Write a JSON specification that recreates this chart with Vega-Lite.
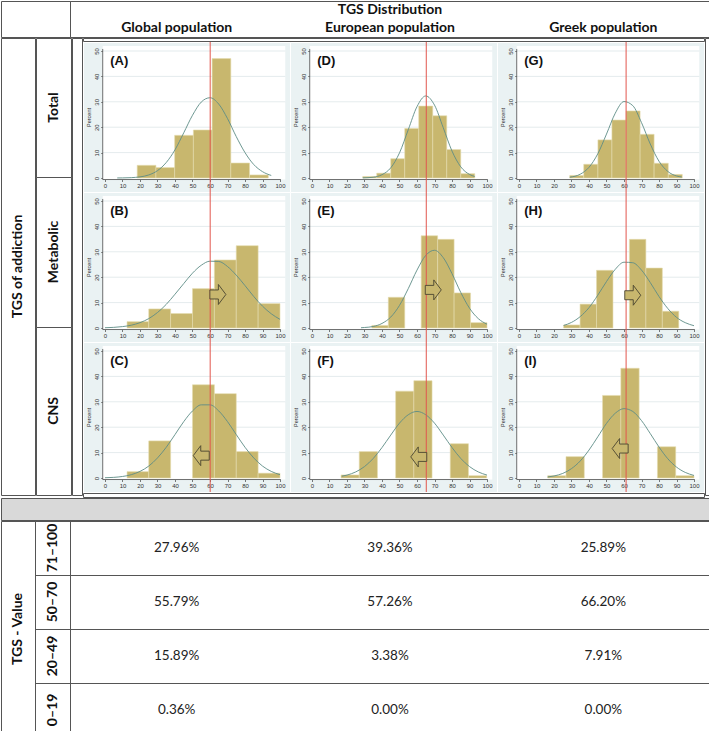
{
"$schema":"https://vega.github.io/schema/vega-lite/v6.json",
"padding":0,
"background":"white",
"spacing":-2,
"config":{"view":{"stroke":null},"text":{"font":"Lato","fontSize":14,"color":"#111"},"concat":{"spacing":0},
 "axisXQuantitative":{"tickCount":11,"labelOverlap":false,"labelExpr":"datum.value < 0 ? '' : datum.label"},
 "axisYQuantitative":{"tickCount":6,"labelOverlap":false}},
"datasets":{
"h":[
{"k":"g","y":10},{"k":"g","y":20},{"k":"g","y":30},{"k":"g","y":40},{"k":"g","y":50},
{"k":"l","p":"Gl","s":"T","t":"(A)"},{"k":"l","p":"Gl","s":"M","t":"(B)"},{"k":"l","p":"Gl","s":"C","t":"(C)"},
{"k":"l","p":"Eu","s":"T","t":"(D)"},{"k":"l","p":"Eu","s":"M","t":"(E)"},{"k":"l","p":"Eu","s":"C","t":"(F)"},
{"k":"l","p":"Gr","s":"T","t":"(G)"},{"k":"l","p":"Gr","s":"M","t":"(H)"},{"k":"l","p":"Gr","s":"C","t":"(I)"},
{"k":"m","p":"Gl","s":"T","x":60.1},{"k":"m","p":"Gl","s":"M","x":60.1},{"k":"m","p":"Gl","s":"C","x":60.1},
{"k":"m","p":"Eu","s":"T","x":65.3},{"k":"m","p":"Eu","s":"M","x":65.3},{"k":"m","p":"Eu","s":"C","x":65.3},
{"k":"m","p":"Gr","s":"T","x":61.2},{"k":"m","p":"Gr","s":"M","x":61.2},{"k":"m","p":"Gr","s":"C","x":61.2},
{"k":"a","p":"Gl","s":"M","x":64.5,"y":13.2,"d":"right"},
{"k":"a","p":"Gl","s":"C","x":55.0,"y":8.8,"d":"left"},
{"k":"a","p":"Eu","s":"M","x":69.3,"y":15.0,"d":"right"},
{"k":"a","p":"Eu","s":"C","x":61.0,"y":8.3,"d":"left"},
{"k":"a","p":"Gr","s":"M","x":65.0,"y":12.9,"d":"right"},
{"k":"a","p":"Gr","s":"C","x":57.8,"y":11.6,"d":"left"},
{"k":"b","p":"Gl","s":"T","x":18.4,"x1":29.1,"y":5.0},
{"k":"b","p":"Gl","s":"T","x":29.1,"x1":39.8,"y":4.1},
{"k":"b","p":"Gl","s":"T","x":39.8,"x1":50.5,"y":16.8},
{"k":"b","p":"Gl","s":"T","x":50.5,"x1":61.2,"y":18.9},
{"k":"b","p":"Gl","s":"T","x":61.2,"x1":71.9,"y":47.0},
{"k":"b","p":"Gl","s":"T","x":71.9,"x1":82.6,"y":5.9},
{"k":"b","p":"Gl","s":"T","x":82.6,"x1":93.3,"y":1.2},
{"k":"b","p":"Gl","s":"M","x":12.6,"x1":25.0,"y":2.5},
{"k":"b","p":"Gl","s":"M","x":25.0,"x1":37.5,"y":7.5},
{"k":"b","p":"Gl","s":"M","x":37.5,"x1":50.0,"y":5.7},
{"k":"b","p":"Gl","s":"M","x":50.0,"x1":62.5,"y":15.5},
{"k":"b","p":"Gl","s":"M","x":62.5,"x1":75.0,"y":26.8},
{"k":"b","p":"Gl","s":"M","x":75.0,"x1":87.5,"y":32.4},
{"k":"b","p":"Gl","s":"M","x":87.5,"x1":100.0,"y":9.6},
{"k":"b","p":"Gl","s":"C","x":12.6,"x1":25.0,"y":2.5},
{"k":"b","p":"Gl","s":"C","x":25.0,"x1":37.5,"y":14.6},
{"k":"b","p":"Gl","s":"C","x":50.0,"x1":62.5,"y":36.7},
{"k":"b","p":"Gl","s":"C","x":62.5,"x1":75.0,"y":33.2},
{"k":"b","p":"Gl","s":"C","x":75.0,"x1":87.5,"y":10.4},
{"k":"b","p":"Gl","s":"C","x":87.5,"x1":100.0,"y":1.9},
{"k":"b","p":"Eu","s":"T","x":29,"x1":37,"y":0.6},
{"k":"b","p":"Eu","s":"T","x":37,"x1":45,"y":1.9},
{"k":"b","p":"Eu","s":"T","x":45,"x1":53,"y":7.6},
{"k":"b","p":"Eu","s":"T","x":53,"x1":61,"y":19.5},
{"k":"b","p":"Eu","s":"T","x":61,"x1":69,"y":28.3},
{"k":"b","p":"Eu","s":"T","x":69,"x1":77,"y":24.5},
{"k":"b","p":"Eu","s":"T","x":77,"x1":85,"y":11.2},
{"k":"b","p":"Eu","s":"T","x":85,"x1":93,"y":1.7},
{"k":"b","p":"Eu","s":"M","x":34.2,"x1":43.6,"y":1.0},
{"k":"b","p":"Eu","s":"M","x":43.6,"x1":53.0,"y":12.1},
{"k":"b","p":"Eu","s":"M","x":62.4,"x1":71.8,"y":36.3},
{"k":"b","p":"Eu","s":"M","x":71.8,"x1":81.2,"y":34.9},
{"k":"b","p":"Eu","s":"M","x":81.2,"x1":90.6,"y":13.8},
{"k":"b","p":"Eu","s":"M","x":90.6,"x1":100.0,"y":2.1},
{"k":"b","p":"Eu","s":"C","x":16.6,"x1":27.0,"y":1.2},
{"k":"b","p":"Eu","s":"C","x":27.0,"x1":37.4,"y":10.4},
{"k":"b","p":"Eu","s":"C","x":47.8,"x1":58.2,"y":34.2},
{"k":"b","p":"Eu","s":"C","x":58.2,"x1":68.6,"y":38.3},
{"k":"b","p":"Eu","s":"C","x":79.0,"x1":89.4,"y":13.5},
{"k":"b","p":"Eu","s":"C","x":89.4,"x1":99.8,"y":0.9},
{"k":"b","p":"Gr","s":"T","x":29.0,"x1":37.0,"y":1.0},
{"k":"b","p":"Gr","s":"T","x":37.0,"x1":45.1,"y":5.4},
{"k":"b","p":"Gr","s":"T","x":45.1,"x1":53.1,"y":15.0},
{"k":"b","p":"Gr","s":"T","x":53.1,"x1":61.2,"y":22.8},
{"k":"b","p":"Gr","s":"T","x":61.2,"x1":69.2,"y":26.4},
{"k":"b","p":"Gr","s":"T","x":69.2,"x1":77.2,"y":17.2},
{"k":"b","p":"Gr","s":"T","x":77.2,"x1":85.3,"y":5.8},
{"k":"b","p":"Gr","s":"T","x":85.3,"x1":93.3,"y":1.4},
{"k":"b","p":"Gr","s":"M","x":25.5,"x1":34.9,"y":1.2},
{"k":"b","p":"Gr","s":"M","x":34.9,"x1":44.3,"y":9.4},
{"k":"b","p":"Gr","s":"M","x":44.3,"x1":53.7,"y":22.7},
{"k":"b","p":"Gr","s":"M","x":63.1,"x1":72.5,"y":34.9},
{"k":"b","p":"Gr","s":"M","x":72.5,"x1":81.9,"y":23.6},
{"k":"b","p":"Gr","s":"M","x":81.9,"x1":91.3,"y":6.6},
{"k":"b","p":"Gr","s":"C","x":16.4,"x1":26.85,"y":0.9},
{"k":"b","p":"Gr","s":"C","x":26.85,"x1":37.3,"y":8.4},
{"k":"b","p":"Gr","s":"C","x":47.75,"x1":58.2,"y":32.5},
{"k":"b","p":"Gr","s":"C","x":58.2,"x1":68.65,"y":43.2},
{"k":"b","p":"Gr","s":"C","x":79.1,"x1":89.55,"y":12.3},
{"k":"b","p":"Gr","s":"C","x":89.55,"x1":100.0,"y":0.9},
{"k":"c","p":"Gl","s":"T","x":7,"y":0.02},{"k":"c","p":"Gl","s":"T","x":10,"y":0.04},{"k":"c","p":"Gl","s":"T","x":15,"y":0.14},{"k":"c","p":"Gl","s":"T","x":20,"y":0.44},{"k":"c","p":"Gl","s":"T","x":25,"y":1.2},{"k":"c","p":"Gl","s":"T","x":30,"y":2.9},{"k":"c","p":"Gl","s":"T","x":35,"y":6.1},{"k":"c","p":"Gl","s":"T","x":40,"y":11.1},{"k":"c","p":"Gl","s":"T","x":45,"y":17.8},{"k":"c","p":"Gl","s":"T","x":50,"y":24.7},{"k":"c","p":"Gl","s":"T","x":55,"y":29.9},{"k":"c","p":"Gl","s":"T","x":60,"y":31.6},{"k":"c","p":"Gl","s":"T","x":65,"y":29.1},{"k":"c","p":"Gl","s":"T","x":70,"y":23.4},{"k":"c","p":"Gl","s":"T","x":75,"y":16.3},{"k":"c","p":"Gl","s":"T","x":80,"y":10.0},{"k":"c","p":"Gl","s":"T","x":85,"y":5.3},{"k":"c","p":"Gl","s":"T","x":90,"y":2.5},{"k":"c","p":"Gl","s":"T","x":95,"y":1.0},
{"k":"c","p":"Gl","s":"M","x":0,"y":0.11},{"k":"c","p":"Gl","s":"M","x":5,"y":0.25},{"k":"c","p":"Gl","s":"M","x":10,"y":0.55},{"k":"c","p":"Gl","s":"M","x":15,"y":1.1},{"k":"c","p":"Gl","s":"M","x":20,"y":2.1},{"k":"c","p":"Gl","s":"M","x":25,"y":3.7},{"k":"c","p":"Gl","s":"M","x":30,"y":6.1},{"k":"c","p":"Gl","s":"M","x":35,"y":9.3},{"k":"c","p":"Gl","s":"M","x":40,"y":13.3},{"k":"c","p":"Gl","s":"M","x":45,"y":17.5},{"k":"c","p":"Gl","s":"M","x":50,"y":21.6},{"k":"c","p":"Gl","s":"M","x":55,"y":24.7},{"k":"c","p":"Gl","s":"M","x":60,"y":26.3},{"k":"c","p":"Gl","s":"M","x":65,"y":26.2},{"k":"c","p":"Gl","s":"M","x":70,"y":24.2},{"k":"c","p":"Gl","s":"M","x":75,"y":20.8},{"k":"c","p":"Gl","s":"M","x":80,"y":16.7},{"k":"c","p":"Gl","s":"M","x":85,"y":12.4},{"k":"c","p":"Gl","s":"M","x":90,"y":8.6},{"k":"c","p":"Gl","s":"M","x":95,"y":5.6},{"k":"c","p":"Gl","s":"M","x":100,"y":3.4},
{"k":"c","p":"Gl","s":"C","x":0,"y":0.1},{"k":"c","p":"Gl","s":"C","x":5,"y":0.25},{"k":"c","p":"Gl","s":"C","x":10,"y":0.6},{"k":"c","p":"Gl","s":"C","x":15,"y":1.3},{"k":"c","p":"Gl","s":"C","x":20,"y":2.6},{"k":"c","p":"Gl","s":"C","x":25,"y":4.7},{"k":"c","p":"Gl","s":"C","x":30,"y":7.9},{"k":"c","p":"Gl","s":"C","x":35,"y":12.1},{"k":"c","p":"Gl","s":"C","x":40,"y":17.1},{"k":"c","p":"Gl","s":"C","x":45,"y":22.2},{"k":"c","p":"Gl","s":"C","x":50,"y":26.4},{"k":"c","p":"Gl","s":"C","x":55,"y":28.8},{"k":"c","p":"Gl","s":"C","x":60,"y":28.8},{"k":"c","p":"Gl","s":"C","x":65,"y":26.4},{"k":"c","p":"Gl","s":"C","x":70,"y":22.2},{"k":"c","p":"Gl","s":"C","x":75,"y":17.1},{"k":"c","p":"Gl","s":"C","x":80,"y":12.1},{"k":"c","p":"Gl","s":"C","x":85,"y":7.9},{"k":"c","p":"Gl","s":"C","x":90,"y":4.7},{"k":"c","p":"Gl","s":"C","x":95,"y":2.6},{"k":"c","p":"Gl","s":"C","x":100,"y":1.3},
{"k":"c","p":"Eu","s":"T","x":29,"y":0.04},{"k":"c","p":"Eu","s":"T","x":35,"y":0.3},{"k":"c","p":"Eu","s":"T","x":40,"y":1.3},{"k":"c","p":"Eu","s":"T","x":45,"y":4.0},{"k":"c","p":"Eu","s":"T","x":50,"y":9.9},{"k":"c","p":"Eu","s":"T","x":55,"y":19.0},{"k":"c","p":"Eu","s":"T","x":60,"y":28.1},{"k":"c","p":"Eu","s":"T","x":65,"y":32.3},{"k":"c","p":"Eu","s":"T","x":70,"y":28.7},{"k":"c","p":"Eu","s":"T","x":75,"y":19.8},{"k":"c","p":"Eu","s":"T","x":80,"y":10.6},{"k":"c","p":"Eu","s":"T","x":85,"y":4.4},{"k":"c","p":"Eu","s":"T","x":90,"y":1.4},{"k":"c","p":"Eu","s":"T","x":93,"y":0.6},
{"k":"c","p":"Eu","s":"M","x":28,"y":0.1},{"k":"c","p":"Eu","s":"M","x":30,"y":0.2},{"k":"c","p":"Eu","s":"M","x":35,"y":0.6},{"k":"c","p":"Eu","s":"M","x":40,"y":1.8},{"k":"c","p":"Eu","s":"M","x":45,"y":4.3},{"k":"c","p":"Eu","s":"M","x":50,"y":8.9},{"k":"c","p":"Eu","s":"M","x":55,"y":15.5},{"k":"c","p":"Eu","s":"M","x":60,"y":22.8},{"k":"c","p":"Eu","s":"M","x":65,"y":28.6},{"k":"c","p":"Eu","s":"M","x":70,"y":30.6},{"k":"c","p":"Eu","s":"M","x":75,"y":27.7},{"k":"c","p":"Eu","s":"M","x":80,"y":21.4},{"k":"c","p":"Eu","s":"M","x":85,"y":14.0},{"k":"c","p":"Eu","s":"M","x":90,"y":7.8},{"k":"c","p":"Eu","s":"M","x":95,"y":3.7},{"k":"c","p":"Eu","s":"M","x":100,"y":1.5},
{"k":"c","p":"Eu","s":"C","x":17,"y":0.7},{"k":"c","p":"Eu","s":"C","x":20,"y":1.15},{"k":"c","p":"Eu","s":"C","x":25,"y":2.4},{"k":"c","p":"Eu","s":"C","x":30,"y":4.5},{"k":"c","p":"Eu","s":"C","x":35,"y":7.7},{"k":"c","p":"Eu","s":"C","x":40,"y":12.0},{"k":"c","p":"Eu","s":"C","x":45,"y":16.9},{"k":"c","p":"Eu","s":"C","x":50,"y":21.6},{"k":"c","p":"Eu","s":"C","x":55,"y":24.9},{"k":"c","p":"Eu","s":"C","x":60,"y":26.2},{"k":"c","p":"Eu","s":"C","x":65,"y":24.9},{"k":"c","p":"Eu","s":"C","x":70,"y":21.6},{"k":"c","p":"Eu","s":"C","x":75,"y":16.9},{"k":"c","p":"Eu","s":"C","x":80,"y":12.0},{"k":"c","p":"Eu","s":"C","x":85,"y":7.7},{"k":"c","p":"Eu","s":"C","x":90,"y":4.5},{"k":"c","p":"Eu","s":"C","x":95,"y":2.4},{"k":"c","p":"Eu","s":"C","x":100,"y":1.15},
{"k":"c","p":"Gr","s":"T","x":29,"y":0.3},{"k":"c","p":"Gr","s":"T","x":35,"y":1.5},{"k":"c","p":"Gr","s":"T","x":40,"y":4.2},{"k":"c","p":"Gr","s":"T","x":45,"y":9.5},{"k":"c","p":"Gr","s":"T","x":50,"y":17.3},{"k":"c","p":"Gr","s":"T","x":55,"y":25.5},{"k":"c","p":"Gr","s":"T","x":60,"y":30.1},{"k":"c","p":"Gr","s":"T","x":65,"y":28.5},{"k":"c","p":"Gr","s":"T","x":70,"y":21.8},{"k":"c","p":"Gr","s":"T","x":75,"y":13.4},{"k":"c","p":"Gr","s":"T","x":80,"y":6.6},{"k":"c","p":"Gr","s":"T","x":85,"y":2.6},{"k":"c","p":"Gr","s":"T","x":90,"y":0.8},{"k":"c","p":"Gr","s":"T","x":93,"y":0.4},
{"k":"c","p":"Gr","s":"M","x":25.5,"y":1.0},{"k":"c","p":"Gr","s":"M","x":30,"y":2.2},{"k":"c","p":"Gr","s":"M","x":35,"y":4.5},{"k":"c","p":"Gr","s":"M","x":40,"y":8.0},{"k":"c","p":"Gr","s":"M","x":45,"y":12.9},{"k":"c","p":"Gr","s":"M","x":50,"y":18.3},{"k":"c","p":"Gr","s":"M","x":55,"y":23.1},{"k":"c","p":"Gr","s":"M","x":60,"y":25.9},{"k":"c","p":"Gr","s":"M","x":65,"y":25.7},{"k":"c","p":"Gr","s":"M","x":70,"y":22.8},{"k":"c","p":"Gr","s":"M","x":75,"y":17.9},{"k":"c","p":"Gr","s":"M","x":80,"y":12.4},{"k":"c","p":"Gr","s":"M","x":85,"y":7.7},{"k":"c","p":"Gr","s":"M","x":90,"y":4.2},{"k":"c","p":"Gr","s":"M","x":95,"y":2.1},{"k":"c","p":"Gr","s":"M","x":100,"y":0.9},
{"k":"c","p":"Gr","s":"C","x":16.4,"y":0.4},{"k":"c","p":"Gr","s":"C","x":20,"y":0.8},{"k":"c","p":"Gr","s":"C","x":25,"y":1.8},{"k":"c","p":"Gr","s":"C","x":30,"y":3.7},{"k":"c","p":"Gr","s":"C","x":35,"y":6.7},{"k":"c","p":"Gr","s":"C","x":40,"y":11.0},{"k":"c","p":"Gr","s":"C","x":45,"y":16.2},{"k":"c","p":"Gr","s":"C","x":50,"y":21.5},{"k":"c","p":"Gr","s":"C","x":55,"y":25.5},{"k":"c","p":"Gr","s":"C","x":60,"y":27.3},{"k":"c","p":"Gr","s":"C","x":65,"y":26.2},{"k":"c","p":"Gr","s":"C","x":70,"y":22.6},{"k":"c","p":"Gr","s":"C","x":75,"y":17.5},{"k":"c","p":"Gr","s":"C","x":80,"y":12.2},{"k":"c","p":"Gr","s":"C","x":85,"y":7.6},{"k":"c","p":"Gr","s":"C","x":90,"y":4.3},{"k":"c","p":"Gr","s":"C","x":95,"y":2.2},{"k":"c","p":"Gr","s":"C","x":100,"y":1.0}
],
"tbl":[
{"r":"71–100","p":"Gl","t":"27.96%"},{"r":"71–100","p":"Eu","t":"39.36%"},{"r":"71–100","p":"Gr","t":"25.89%"},
{"r":"50–70","p":"Gl","t":"55.79%"},{"r":"50–70","p":"Eu","t":"57.26%"},{"r":"50–70","p":"Gr","t":"66.20%"},
{"r":"20–49","p":"Gl","t":"15.89%"},{"r":"20–49","p":"Eu","t":"3.38%"},{"r":"20–49","p":"Gr","t":"7.91%"},
{"r":"0–19","p":"Gl","t":"0.36%"},{"r":"0–19","p":"Eu","t":"0.00%"},{"r":"0–19","p":"Gr","t":"0.00%"}
]
},
"vconcat":[
{"hconcat":[
 {"width":69,"height":36,"data":{"values":[{}]},"mark":{"type":"text","fontSize":0},"encoding":{"text":{"value":""}},"view":{"stroke":"#555"}},
 {"width":640,"height":36,"data":{"values":[{"lv":"top","t":"TGS Distribution"},{"lv":"sub","t":"Global population","p":"Gl"},{"lv":"sub","t":"European population","p":"Eu"},{"lv":"sub","t":"Greek population","p":"Gr"}]},
  "view":{"stroke":"#555"},
  "layer":[
   {"transform":[{"filter":"datum.lv=='top'"}],"mark":{"type":"text","fontWeight":"bold"},"encoding":{"y":{"field":"lv","type":"nominal","scale":{"domain":["top","sub"]},"axis":null},"text":{"field":"t"}}},
   {"transform":[{"filter":"datum.lv=='sub'"}],"mark":{"type":"text","fontWeight":"bold"},"encoding":{"x":{"field":"p","type":"nominal","scale":{"domain":["Gl","Eu","Gr"]},"axis":null},"y":{"field":"lv","type":"nominal","axis":null},"text":{"field":"t"}}}
  ]}
],"spacing":0,"bounds":"flush"},
{"hconcat":[
 {"width":34,"height":457,"data":{"values":[{"t":"TGS of addiction"}]},"mark":{"type":"text","angle":270,"fontWeight":"bold"},"encoding":{"text":{"field":"t"}},"view":{"stroke":"#555"}},
 {"vconcat":[
  {"width":35,"height":139,"data":{"values":[{"t":"Total"}]},"mark":{"type":"text","angle":270,"fontWeight":"bold"},"encoding":{"text":{"field":"t"}},"view":{"stroke":"#555"}},
  {"width":35,"height":150,"data":{"values":[{"t":"Metabolic"}]},"mark":{"type":"text","angle":270,"fontWeight":"bold"},"encoding":{"text":{"field":"t"}},"view":{"stroke":"#555"}},
  {"width":35,"height":168,"data":{"values":[{"t":"CNS"}]},"mark":{"type":"text","angle":270,"fontWeight":"bold"},"encoding":{"text":{"field":"t"}},"view":{"stroke":"#555"}}
 ],"spacing":0,"bounds":"flush"},
 {"width":10,"height":457,"data":{"values":[{}]},"mark":{"type":"text","fontSize":0},"encoding":{"text":{"value":""}},"view":{"stroke":"#555"}},
 {"vconcat":[
  {"width":621,"height":3,"data":{"values":[{}]},"mark":{"type":"text","fontSize":0},"encoding":{"text":{"value":""}},"view":{"stroke":"#555"}},
  {"columns":3,"spacing":0,"bounds":"flush","concat":[
   {"width":207,"height":150,"view":{"fill":"#EAF2F3","stroke":"#FFFFFF","strokeWidth":1},"data":{"name":"h"},"transform":[{"filter":"datum.k=='g' || (datum.p=='Gl' && datum.s=='T')"}],"layer":[
     {"transform":[{"filter":"datum.k=='l'"}],"mark":{"type":"rect","fill":"white"},"encoding":{"x":{"datum":-1.3,"type":"quantitative","scale":{"domain":[-12.571,105.714],"nice":false,"zero":false},"axis":{"values":[0,10,20,30,40,50,60,70,80,90,100],"title":null,"domain":false,"grid":false,"offset":-12.5,"tickSize":2,"tickColor":"#444","tickWidth":0.7,"labelFontSize":6,"labelPadding":1,"labelFont":"Liberation Sans","labelColor":"#333","labelFlush":false,"labelOverlap":false}},"x2":{"datum":103},"y":{"datum":-0.6,"type":"quantitative","scale":{"domain":[-5.51,53.54],"nice":false,"zero":false},"axis":{"values":[0,10,20,30,40,50],"title":"Percent","titleFontSize":5.5,"titleFont":"Liberation Sans","titleFontWeight":"normal","titleColor":"#333","titlePadding":2,"domain":false,"grid":false,"offset":-19.7,"tickSize":2,"tickColor":"#444","tickWidth":0.7,"labelFontSize":6,"labelPadding":1,"labelAngle":270,"labelFont":"Liberation Sans","labelColor":"#333","labelFlush":false,"labelOverlap":false}},"y2":{"datum":52}}},
     {"transform":[{"filter":"datum.k=='g'"}],"mark":{"type":"rule","color":"#DDE6E9","strokeWidth":0.8},"encoding":{"x":{"datum":-1.3,"type":"quantitative"},"x2":{"datum":103},"y":{"field":"y","type":"quantitative"}}},
     {"transform":[{"filter":"datum.k=='b'"}],"mark":{"type":"rect","fill":"#C8B76E","stroke":"#E4DBAE","strokeWidth":0.6},"encoding":{"x":{"field":"x","type":"quantitative"},"x2":{"field":"x1"},"y":{"field":"y","type":"quantitative"},"y2":{"datum":0}}},
     {"transform":[{"filter":"datum.k=='c'"}],"mark":{"type":"line","color":"#5E8C86","strokeWidth":0.9,"interpolate":"monotone"},"encoding":{"x":{"field":"x","type":"quantitative"},"y":{"field":"y","type":"quantitative"}}},
     {"transform":[{"filter":"datum.k=='l'"}],"mark":{"type":"rule","color":"#333","strokeWidth":0.7},"encoding":{"x":{"datum":-1.3,"type":"quantitative"},"y":{"datum":-0.6,"type":"quantitative"},"y2":{"datum":50.8}}},
     {"transform":[{"filter":"datum.k=='l'"}],"mark":{"type":"rule","color":"#333","strokeWidth":0.7},"encoding":{"x":{"datum":-1.3,"type":"quantitative"},"x2":{"datum":100.5},"y":{"datum":-0.6,"type":"quantitative"}}},
     {"transform":[{"filter":"datum.k=='m'"}],"mark":{"type":"rule","color":"#E2564E","strokeWidth":1},"encoding":{"x":{"field":"x","type":"quantitative"}}},
     {"transform":[{"filter":"datum.k=='l'"}],"mark":{"type":"text","font":"Liberation Sans","fontWeight":"bold","fontSize":13,"align":"left","baseline":"middle","color":"#111"},"encoding":{"x":{"datum":3,"type":"quantitative"},"y":{"datum":46,"type":"quantitative"},"text":{"field":"t"}}}
   ]},
   {"width":207,"height":150,"view":{"fill":"#EAF2F3","stroke":"#FFFFFF","strokeWidth":1},"data":{"name":"h"},"transform":[{"filter":"datum.k=='g' || (datum.p=='Eu' && datum.s=='T')"}],"layer":[
     {"transform":[{"filter":"datum.k=='l'"}],"mark":{"type":"rect","fill":"white"},"encoding":{"x":{"datum":-1.3,"type":"quantitative","scale":{"domain":[-12.571,105.714],"nice":false,"zero":false},"axis":{"values":[0,10,20,30,40,50,60,70,80,90,100],"title":null,"domain":false,"grid":false,"offset":-12.5,"tickSize":2,"tickColor":"#444","tickWidth":0.7,"labelFontSize":6,"labelPadding":1,"labelFont":"Liberation Sans","labelColor":"#333","labelFlush":false,"labelOverlap":false}},"x2":{"datum":103},"y":{"datum":-0.6,"type":"quantitative","scale":{"domain":[-5.51,53.54],"nice":false,"zero":false},"axis":{"values":[0,10,20,30,40,50],"title":"Percent","titleFontSize":5.5,"titleFont":"Liberation Sans","titleFontWeight":"normal","titleColor":"#333","titlePadding":2,"domain":false,"grid":false,"offset":-19.7,"tickSize":2,"tickColor":"#444","tickWidth":0.7,"labelFontSize":6,"labelPadding":1,"labelAngle":270,"labelFont":"Liberation Sans","labelColor":"#333","labelFlush":false,"labelOverlap":false}},"y2":{"datum":52}}},
     {"transform":[{"filter":"datum.k=='g'"}],"mark":{"type":"rule","color":"#DDE6E9","strokeWidth":0.8},"encoding":{"x":{"datum":-1.3,"type":"quantitative"},"x2":{"datum":103},"y":{"field":"y","type":"quantitative"}}},
     {"transform":[{"filter":"datum.k=='b'"}],"mark":{"type":"rect","fill":"#C8B76E","stroke":"#E4DBAE","strokeWidth":0.6},"encoding":{"x":{"field":"x","type":"quantitative"},"x2":{"field":"x1"},"y":{"field":"y","type":"quantitative"},"y2":{"datum":0}}},
     {"transform":[{"filter":"datum.k=='c'"}],"mark":{"type":"line","color":"#5E8C86","strokeWidth":0.9,"interpolate":"monotone"},"encoding":{"x":{"field":"x","type":"quantitative"},"y":{"field":"y","type":"quantitative"}}},
     {"transform":[{"filter":"datum.k=='l'"}],"mark":{"type":"rule","color":"#333","strokeWidth":0.7},"encoding":{"x":{"datum":-1.3,"type":"quantitative"},"y":{"datum":-0.6,"type":"quantitative"},"y2":{"datum":50.8}}},
     {"transform":[{"filter":"datum.k=='l'"}],"mark":{"type":"rule","color":"#333","strokeWidth":0.7},"encoding":{"x":{"datum":-1.3,"type":"quantitative"},"x2":{"datum":100.5},"y":{"datum":-0.6,"type":"quantitative"}}},
     {"transform":[{"filter":"datum.k=='m'"}],"mark":{"type":"rule","color":"#E2564E","strokeWidth":1},"encoding":{"x":{"field":"x","type":"quantitative"}}},
     {"transform":[{"filter":"datum.k=='l'"}],"mark":{"type":"text","font":"Liberation Sans","fontWeight":"bold","fontSize":13,"align":"left","baseline":"middle","color":"#111"},"encoding":{"x":{"datum":3,"type":"quantitative"},"y":{"datum":46,"type":"quantitative"},"text":{"field":"t"}}}
   ]},
   {"width":207,"height":150,"view":{"fill":"#EAF2F3","stroke":"#FFFFFF","strokeWidth":1},"data":{"name":"h"},"transform":[{"filter":"datum.k=='g' || (datum.p=='Gr' && datum.s=='T')"}],"layer":[
     {"transform":[{"filter":"datum.k=='l'"}],"mark":{"type":"rect","fill":"white"},"encoding":{"x":{"datum":-1.3,"type":"quantitative","scale":{"domain":[-12.571,105.714],"nice":false,"zero":false},"axis":{"values":[0,10,20,30,40,50,60,70,80,90,100],"title":null,"domain":false,"grid":false,"offset":-12.5,"tickSize":2,"tickColor":"#444","tickWidth":0.7,"labelFontSize":6,"labelPadding":1,"labelFont":"Liberation Sans","labelColor":"#333","labelFlush":false,"labelOverlap":false}},"x2":{"datum":103},"y":{"datum":-0.6,"type":"quantitative","scale":{"domain":[-5.51,53.54],"nice":false,"zero":false},"axis":{"values":[0,10,20,30,40,50],"title":"Percent","titleFontSize":5.5,"titleFont":"Liberation Sans","titleFontWeight":"normal","titleColor":"#333","titlePadding":2,"domain":false,"grid":false,"offset":-19.7,"tickSize":2,"tickColor":"#444","tickWidth":0.7,"labelFontSize":6,"labelPadding":1,"labelAngle":270,"labelFont":"Liberation Sans","labelColor":"#333","labelFlush":false,"labelOverlap":false}},"y2":{"datum":52}}},
     {"transform":[{"filter":"datum.k=='g'"}],"mark":{"type":"rule","color":"#DDE6E9","strokeWidth":0.8},"encoding":{"x":{"datum":-1.3,"type":"quantitative"},"x2":{"datum":103},"y":{"field":"y","type":"quantitative"}}},
     {"transform":[{"filter":"datum.k=='b'"}],"mark":{"type":"rect","fill":"#C8B76E","stroke":"#E4DBAE","strokeWidth":0.6},"encoding":{"x":{"field":"x","type":"quantitative"},"x2":{"field":"x1"},"y":{"field":"y","type":"quantitative"},"y2":{"datum":0}}},
     {"transform":[{"filter":"datum.k=='c'"}],"mark":{"type":"line","color":"#5E8C86","strokeWidth":0.9,"interpolate":"monotone"},"encoding":{"x":{"field":"x","type":"quantitative"},"y":{"field":"y","type":"quantitative"}}},
     {"transform":[{"filter":"datum.k=='l'"}],"mark":{"type":"rule","color":"#333","strokeWidth":0.7},"encoding":{"x":{"datum":-1.3,"type":"quantitative"},"y":{"datum":-0.6,"type":"quantitative"},"y2":{"datum":50.8}}},
     {"transform":[{"filter":"datum.k=='l'"}],"mark":{"type":"rule","color":"#333","strokeWidth":0.7},"encoding":{"x":{"datum":-1.3,"type":"quantitative"},"x2":{"datum":100.5},"y":{"datum":-0.6,"type":"quantitative"}}},
     {"transform":[{"filter":"datum.k=='m'"}],"mark":{"type":"rule","color":"#E2564E","strokeWidth":1},"encoding":{"x":{"field":"x","type":"quantitative"}}},
     {"transform":[{"filter":"datum.k=='l'"}],"mark":{"type":"text","font":"Liberation Sans","fontWeight":"bold","fontSize":13,"align":"left","baseline":"middle","color":"#111"},"encoding":{"x":{"datum":3,"type":"quantitative"},"y":{"datum":46,"type":"quantitative"},"text":{"field":"t"}}}
   ]},
   {"width":207,"height":150,"view":{"fill":"#EAF2F3","stroke":"#FFFFFF","strokeWidth":1},"data":{"name":"h"},"transform":[{"filter":"datum.k=='g' || (datum.p=='Gl' && datum.s=='M')"}],"layer":[
     {"transform":[{"filter":"datum.k=='l'"}],"mark":{"type":"rect","fill":"white"},"encoding":{"x":{"datum":-1.3,"type":"quantitative","scale":{"domain":[-12.571,105.714],"nice":false,"zero":false},"axis":{"values":[0,10,20,30,40,50,60,70,80,90,100],"title":null,"domain":false,"grid":false,"offset":-12.5,"tickSize":2,"tickColor":"#444","tickWidth":0.7,"labelFontSize":6,"labelPadding":1,"labelFont":"Liberation Sans","labelColor":"#333","labelFlush":false,"labelOverlap":false}},"x2":{"datum":103},"y":{"datum":-0.6,"type":"quantitative","scale":{"domain":[-5.51,53.54],"nice":false,"zero":false},"axis":{"values":[0,10,20,30,40,50],"title":"Percent","titleFontSize":5.5,"titleFont":"Liberation Sans","titleFontWeight":"normal","titleColor":"#333","titlePadding":2,"domain":false,"grid":false,"offset":-19.7,"tickSize":2,"tickColor":"#444","tickWidth":0.7,"labelFontSize":6,"labelPadding":1,"labelAngle":270,"labelFont":"Liberation Sans","labelColor":"#333","labelFlush":false,"labelOverlap":false}},"y2":{"datum":52}}},
     {"transform":[{"filter":"datum.k=='g'"}],"mark":{"type":"rule","color":"#DDE6E9","strokeWidth":0.8},"encoding":{"x":{"datum":-1.3,"type":"quantitative"},"x2":{"datum":103},"y":{"field":"y","type":"quantitative"}}},
     {"transform":[{"filter":"datum.k=='b'"}],"mark":{"type":"rect","fill":"#C8B76E","stroke":"#E4DBAE","strokeWidth":0.6},"encoding":{"x":{"field":"x","type":"quantitative"},"x2":{"field":"x1"},"y":{"field":"y","type":"quantitative"},"y2":{"datum":0}}},
     {"transform":[{"filter":"datum.k=='c'"}],"mark":{"type":"line","color":"#5E8C86","strokeWidth":0.9,"interpolate":"monotone"},"encoding":{"x":{"field":"x","type":"quantitative"},"y":{"field":"y","type":"quantitative"}}},
     {"transform":[{"filter":"datum.k=='l'"}],"mark":{"type":"rule","color":"#333","strokeWidth":0.7},"encoding":{"x":{"datum":-1.3,"type":"quantitative"},"y":{"datum":-0.6,"type":"quantitative"},"y2":{"datum":50.8}}},
     {"transform":[{"filter":"datum.k=='l'"}],"mark":{"type":"rule","color":"#333","strokeWidth":0.7},"encoding":{"x":{"datum":-1.3,"type":"quantitative"},"x2":{"datum":100.5},"y":{"datum":-0.6,"type":"quantitative"}}},
     {"transform":[{"filter":"datum.k=='m'"}],"mark":{"type":"rule","color":"#E2564E","strokeWidth":1},"encoding":{"x":{"field":"x","type":"quantitative"}}},
     {"transform":[{"filter":"datum.k=='a'"}],"mark":{"type":"point","filled":true,"fill":"#C8B76E","stroke":"#4A4530","strokeWidth":0.9,"size":400,"opacity":1},"encoding":{"x":{"field":"x","type":"quantitative"},"y":{"field":"y","type":"quantitative"},"shape":{"field":"d","type":"nominal","scale":{"domain":["right","left"],"range":["M-0.8,-0.45L0.05,-0.45L0.05,-1L0.8,0L0.05,1L0.05,0.45L-0.8,0.45Z","M0.8,-0.45L-0.05,-0.45L-0.05,-1L-0.8,0L-0.05,1L-0.05,0.45L0.8,0.45Z"]},"legend":null}}},
     {"transform":[{"filter":"datum.k=='l'"}],"mark":{"type":"text","font":"Liberation Sans","fontWeight":"bold","fontSize":13,"align":"left","baseline":"middle","color":"#111"},"encoding":{"x":{"datum":3,"type":"quantitative"},"y":{"datum":46,"type":"quantitative"},"text":{"field":"t"}}}
   ]},
   {"width":207,"height":150,"view":{"fill":"#EAF2F3","stroke":"#FFFFFF","strokeWidth":1},"data":{"name":"h"},"transform":[{"filter":"datum.k=='g' || (datum.p=='Eu' && datum.s=='M')"}],"layer":[
     {"transform":[{"filter":"datum.k=='l'"}],"mark":{"type":"rect","fill":"white"},"encoding":{"x":{"datum":-1.3,"type":"quantitative","scale":{"domain":[-12.571,105.714],"nice":false,"zero":false},"axis":{"values":[0,10,20,30,40,50,60,70,80,90,100],"title":null,"domain":false,"grid":false,"offset":-12.5,"tickSize":2,"tickColor":"#444","tickWidth":0.7,"labelFontSize":6,"labelPadding":1,"labelFont":"Liberation Sans","labelColor":"#333","labelFlush":false,"labelOverlap":false}},"x2":{"datum":103},"y":{"datum":-0.6,"type":"quantitative","scale":{"domain":[-5.51,53.54],"nice":false,"zero":false},"axis":{"values":[0,10,20,30,40,50],"title":"Percent","titleFontSize":5.5,"titleFont":"Liberation Sans","titleFontWeight":"normal","titleColor":"#333","titlePadding":2,"domain":false,"grid":false,"offset":-19.7,"tickSize":2,"tickColor":"#444","tickWidth":0.7,"labelFontSize":6,"labelPadding":1,"labelAngle":270,"labelFont":"Liberation Sans","labelColor":"#333","labelFlush":false,"labelOverlap":false}},"y2":{"datum":52}}},
     {"transform":[{"filter":"datum.k=='g'"}],"mark":{"type":"rule","color":"#DDE6E9","strokeWidth":0.8},"encoding":{"x":{"datum":-1.3,"type":"quantitative"},"x2":{"datum":103},"y":{"field":"y","type":"quantitative"}}},
     {"transform":[{"filter":"datum.k=='b'"}],"mark":{"type":"rect","fill":"#C8B76E","stroke":"#E4DBAE","strokeWidth":0.6},"encoding":{"x":{"field":"x","type":"quantitative"},"x2":{"field":"x1"},"y":{"field":"y","type":"quantitative"},"y2":{"datum":0}}},
     {"transform":[{"filter":"datum.k=='c'"}],"mark":{"type":"line","color":"#5E8C86","strokeWidth":0.9,"interpolate":"monotone"},"encoding":{"x":{"field":"x","type":"quantitative"},"y":{"field":"y","type":"quantitative"}}},
     {"transform":[{"filter":"datum.k=='l'"}],"mark":{"type":"rule","color":"#333","strokeWidth":0.7},"encoding":{"x":{"datum":-1.3,"type":"quantitative"},"y":{"datum":-0.6,"type":"quantitative"},"y2":{"datum":50.8}}},
     {"transform":[{"filter":"datum.k=='l'"}],"mark":{"type":"rule","color":"#333","strokeWidth":0.7},"encoding":{"x":{"datum":-1.3,"type":"quantitative"},"x2":{"datum":100.5},"y":{"datum":-0.6,"type":"quantitative"}}},
     {"transform":[{"filter":"datum.k=='m'"}],"mark":{"type":"rule","color":"#E2564E","strokeWidth":1},"encoding":{"x":{"field":"x","type":"quantitative"}}},
     {"transform":[{"filter":"datum.k=='a'"}],"mark":{"type":"point","filled":true,"fill":"#C8B76E","stroke":"#4A4530","strokeWidth":0.9,"size":400,"opacity":1},"encoding":{"x":{"field":"x","type":"quantitative"},"y":{"field":"y","type":"quantitative"},"shape":{"field":"d","type":"nominal","scale":{"domain":["right","left"],"range":["M-0.8,-0.45L0.05,-0.45L0.05,-1L0.8,0L0.05,1L0.05,0.45L-0.8,0.45Z","M0.8,-0.45L-0.05,-0.45L-0.05,-1L-0.8,0L-0.05,1L-0.05,0.45L0.8,0.45Z"]},"legend":null}}},
     {"transform":[{"filter":"datum.k=='l'"}],"mark":{"type":"text","font":"Liberation Sans","fontWeight":"bold","fontSize":13,"align":"left","baseline":"middle","color":"#111"},"encoding":{"x":{"datum":3,"type":"quantitative"},"y":{"datum":46,"type":"quantitative"},"text":{"field":"t"}}}
   ]},
   {"width":207,"height":150,"view":{"fill":"#EAF2F3","stroke":"#FFFFFF","strokeWidth":1},"data":{"name":"h"},"transform":[{"filter":"datum.k=='g' || (datum.p=='Gr' && datum.s=='M')"}],"layer":[
     {"transform":[{"filter":"datum.k=='l'"}],"mark":{"type":"rect","fill":"white"},"encoding":{"x":{"datum":-1.3,"type":"quantitative","scale":{"domain":[-12.571,105.714],"nice":false,"zero":false},"axis":{"values":[0,10,20,30,40,50,60,70,80,90,100],"title":null,"domain":false,"grid":false,"offset":-12.5,"tickSize":2,"tickColor":"#444","tickWidth":0.7,"labelFontSize":6,"labelPadding":1,"labelFont":"Liberation Sans","labelColor":"#333","labelFlush":false,"labelOverlap":false}},"x2":{"datum":103},"y":{"datum":-0.6,"type":"quantitative","scale":{"domain":[-5.51,53.54],"nice":false,"zero":false},"axis":{"values":[0,10,20,30,40,50],"title":"Percent","titleFontSize":5.5,"titleFont":"Liberation Sans","titleFontWeight":"normal","titleColor":"#333","titlePadding":2,"domain":false,"grid":false,"offset":-19.7,"tickSize":2,"tickColor":"#444","tickWidth":0.7,"labelFontSize":6,"labelPadding":1,"labelAngle":270,"labelFont":"Liberation Sans","labelColor":"#333","labelFlush":false,"labelOverlap":false}},"y2":{"datum":52}}},
     {"transform":[{"filter":"datum.k=='g'"}],"mark":{"type":"rule","color":"#DDE6E9","strokeWidth":0.8},"encoding":{"x":{"datum":-1.3,"type":"quantitative"},"x2":{"datum":103},"y":{"field":"y","type":"quantitative"}}},
     {"transform":[{"filter":"datum.k=='b'"}],"mark":{"type":"rect","fill":"#C8B76E","stroke":"#E4DBAE","strokeWidth":0.6},"encoding":{"x":{"field":"x","type":"quantitative"},"x2":{"field":"x1"},"y":{"field":"y","type":"quantitative"},"y2":{"datum":0}}},
     {"transform":[{"filter":"datum.k=='c'"}],"mark":{"type":"line","color":"#5E8C86","strokeWidth":0.9,"interpolate":"monotone"},"encoding":{"x":{"field":"x","type":"quantitative"},"y":{"field":"y","type":"quantitative"}}},
     {"transform":[{"filter":"datum.k=='l'"}],"mark":{"type":"rule","color":"#333","strokeWidth":0.7},"encoding":{"x":{"datum":-1.3,"type":"quantitative"},"y":{"datum":-0.6,"type":"quantitative"},"y2":{"datum":50.8}}},
     {"transform":[{"filter":"datum.k=='l'"}],"mark":{"type":"rule","color":"#333","strokeWidth":0.7},"encoding":{"x":{"datum":-1.3,"type":"quantitative"},"x2":{"datum":100.5},"y":{"datum":-0.6,"type":"quantitative"}}},
     {"transform":[{"filter":"datum.k=='m'"}],"mark":{"type":"rule","color":"#E2564E","strokeWidth":1},"encoding":{"x":{"field":"x","type":"quantitative"}}},
     {"transform":[{"filter":"datum.k=='a'"}],"mark":{"type":"point","filled":true,"fill":"#C8B76E","stroke":"#4A4530","strokeWidth":0.9,"size":400,"opacity":1},"encoding":{"x":{"field":"x","type":"quantitative"},"y":{"field":"y","type":"quantitative"},"shape":{"field":"d","type":"nominal","scale":{"domain":["right","left"],"range":["M-0.8,-0.45L0.05,-0.45L0.05,-1L0.8,0L0.05,1L0.05,0.45L-0.8,0.45Z","M0.8,-0.45L-0.05,-0.45L-0.05,-1L-0.8,0L-0.05,1L-0.05,0.45L0.8,0.45Z"]},"legend":null}}},
     {"transform":[{"filter":"datum.k=='l'"}],"mark":{"type":"text","font":"Liberation Sans","fontWeight":"bold","fontSize":13,"align":"left","baseline":"middle","color":"#111"},"encoding":{"x":{"datum":3,"type":"quantitative"},"y":{"datum":46,"type":"quantitative"},"text":{"field":"t"}}}
   ]},
   {"width":207,"height":150,"view":{"fill":"#EAF2F3","stroke":"#FFFFFF","strokeWidth":1},"data":{"name":"h"},"transform":[{"filter":"datum.k=='g' || (datum.p=='Gl' && datum.s=='C')"}],"layer":[
     {"transform":[{"filter":"datum.k=='l'"}],"mark":{"type":"rect","fill":"white"},"encoding":{"x":{"datum":-1.3,"type":"quantitative","scale":{"domain":[-12.571,105.714],"nice":false,"zero":false},"axis":{"values":[0,10,20,30,40,50,60,70,80,90,100],"title":null,"domain":false,"grid":false,"offset":-12.5,"tickSize":2,"tickColor":"#444","tickWidth":0.7,"labelFontSize":6,"labelPadding":1,"labelFont":"Liberation Sans","labelColor":"#333","labelFlush":false,"labelOverlap":false}},"x2":{"datum":103},"y":{"datum":-0.6,"type":"quantitative","scale":{"domain":[-5.51,53.54],"nice":false,"zero":false},"axis":{"values":[0,10,20,30,40,50],"title":"Percent","titleFontSize":5.5,"titleFont":"Liberation Sans","titleFontWeight":"normal","titleColor":"#333","titlePadding":2,"domain":false,"grid":false,"offset":-19.7,"tickSize":2,"tickColor":"#444","tickWidth":0.7,"labelFontSize":6,"labelPadding":1,"labelAngle":270,"labelFont":"Liberation Sans","labelColor":"#333","labelFlush":false,"labelOverlap":false}},"y2":{"datum":52}}},
     {"transform":[{"filter":"datum.k=='g'"}],"mark":{"type":"rule","color":"#DDE6E9","strokeWidth":0.8},"encoding":{"x":{"datum":-1.3,"type":"quantitative"},"x2":{"datum":103},"y":{"field":"y","type":"quantitative"}}},
     {"transform":[{"filter":"datum.k=='b'"}],"mark":{"type":"rect","fill":"#C8B76E","stroke":"#E4DBAE","strokeWidth":0.6},"encoding":{"x":{"field":"x","type":"quantitative"},"x2":{"field":"x1"},"y":{"field":"y","type":"quantitative"},"y2":{"datum":0}}},
     {"transform":[{"filter":"datum.k=='c'"}],"mark":{"type":"line","color":"#5E8C86","strokeWidth":0.9,"interpolate":"monotone"},"encoding":{"x":{"field":"x","type":"quantitative"},"y":{"field":"y","type":"quantitative"}}},
     {"transform":[{"filter":"datum.k=='l'"}],"mark":{"type":"rule","color":"#333","strokeWidth":0.7},"encoding":{"x":{"datum":-1.3,"type":"quantitative"},"y":{"datum":-0.6,"type":"quantitative"},"y2":{"datum":50.8}}},
     {"transform":[{"filter":"datum.k=='l'"}],"mark":{"type":"rule","color":"#333","strokeWidth":0.7},"encoding":{"x":{"datum":-1.3,"type":"quantitative"},"x2":{"datum":100.5},"y":{"datum":-0.6,"type":"quantitative"}}},
     {"transform":[{"filter":"datum.k=='m'"}],"mark":{"type":"rule","color":"#E2564E","strokeWidth":1},"encoding":{"x":{"field":"x","type":"quantitative"}}},
     {"transform":[{"filter":"datum.k=='a'"}],"mark":{"type":"point","filled":true,"fill":"#C8B76E","stroke":"#4A4530","strokeWidth":0.9,"size":400,"opacity":1},"encoding":{"x":{"field":"x","type":"quantitative"},"y":{"field":"y","type":"quantitative"},"shape":{"field":"d","type":"nominal","scale":{"domain":["right","left"],"range":["M-0.8,-0.45L0.05,-0.45L0.05,-1L0.8,0L0.05,1L0.05,0.45L-0.8,0.45Z","M0.8,-0.45L-0.05,-0.45L-0.05,-1L-0.8,0L-0.05,1L-0.05,0.45L0.8,0.45Z"]},"legend":null}}},
     {"transform":[{"filter":"datum.k=='l'"}],"mark":{"type":"text","font":"Liberation Sans","fontWeight":"bold","fontSize":13,"align":"left","baseline":"middle","color":"#111"},"encoding":{"x":{"datum":3,"type":"quantitative"},"y":{"datum":46,"type":"quantitative"},"text":{"field":"t"}}}
   ]},
   {"width":207,"height":150,"view":{"fill":"#EAF2F3","stroke":"#FFFFFF","strokeWidth":1},"data":{"name":"h"},"transform":[{"filter":"datum.k=='g' || (datum.p=='Eu' && datum.s=='C')"}],"layer":[
     {"transform":[{"filter":"datum.k=='l'"}],"mark":{"type":"rect","fill":"white"},"encoding":{"x":{"datum":-1.3,"type":"quantitative","scale":{"domain":[-12.571,105.714],"nice":false,"zero":false},"axis":{"values":[0,10,20,30,40,50,60,70,80,90,100],"title":null,"domain":false,"grid":false,"offset":-12.5,"tickSize":2,"tickColor":"#444","tickWidth":0.7,"labelFontSize":6,"labelPadding":1,"labelFont":"Liberation Sans","labelColor":"#333","labelFlush":false,"labelOverlap":false}},"x2":{"datum":103},"y":{"datum":-0.6,"type":"quantitative","scale":{"domain":[-5.51,53.54],"nice":false,"zero":false},"axis":{"values":[0,10,20,30,40,50],"title":"Percent","titleFontSize":5.5,"titleFont":"Liberation Sans","titleFontWeight":"normal","titleColor":"#333","titlePadding":2,"domain":false,"grid":false,"offset":-19.7,"tickSize":2,"tickColor":"#444","tickWidth":0.7,"labelFontSize":6,"labelPadding":1,"labelAngle":270,"labelFont":"Liberation Sans","labelColor":"#333","labelFlush":false,"labelOverlap":false}},"y2":{"datum":52}}},
     {"transform":[{"filter":"datum.k=='g'"}],"mark":{"type":"rule","color":"#DDE6E9","strokeWidth":0.8},"encoding":{"x":{"datum":-1.3,"type":"quantitative"},"x2":{"datum":103},"y":{"field":"y","type":"quantitative"}}},
     {"transform":[{"filter":"datum.k=='b'"}],"mark":{"type":"rect","fill":"#C8B76E","stroke":"#E4DBAE","strokeWidth":0.6},"encoding":{"x":{"field":"x","type":"quantitative"},"x2":{"field":"x1"},"y":{"field":"y","type":"quantitative"},"y2":{"datum":0}}},
     {"transform":[{"filter":"datum.k=='c'"}],"mark":{"type":"line","color":"#5E8C86","strokeWidth":0.9,"interpolate":"monotone"},"encoding":{"x":{"field":"x","type":"quantitative"},"y":{"field":"y","type":"quantitative"}}},
     {"transform":[{"filter":"datum.k=='l'"}],"mark":{"type":"rule","color":"#333","strokeWidth":0.7},"encoding":{"x":{"datum":-1.3,"type":"quantitative"},"y":{"datum":-0.6,"type":"quantitative"},"y2":{"datum":50.8}}},
     {"transform":[{"filter":"datum.k=='l'"}],"mark":{"type":"rule","color":"#333","strokeWidth":0.7},"encoding":{"x":{"datum":-1.3,"type":"quantitative"},"x2":{"datum":100.5},"y":{"datum":-0.6,"type":"quantitative"}}},
     {"transform":[{"filter":"datum.k=='m'"}],"mark":{"type":"rule","color":"#E2564E","strokeWidth":1},"encoding":{"x":{"field":"x","type":"quantitative"}}},
     {"transform":[{"filter":"datum.k=='a'"}],"mark":{"type":"point","filled":true,"fill":"#C8B76E","stroke":"#4A4530","strokeWidth":0.9,"size":400,"opacity":1},"encoding":{"x":{"field":"x","type":"quantitative"},"y":{"field":"y","type":"quantitative"},"shape":{"field":"d","type":"nominal","scale":{"domain":["right","left"],"range":["M-0.8,-0.45L0.05,-0.45L0.05,-1L0.8,0L0.05,1L0.05,0.45L-0.8,0.45Z","M0.8,-0.45L-0.05,-0.45L-0.05,-1L-0.8,0L-0.05,1L-0.05,0.45L0.8,0.45Z"]},"legend":null}}},
     {"transform":[{"filter":"datum.k=='l'"}],"mark":{"type":"text","font":"Liberation Sans","fontWeight":"bold","fontSize":13,"align":"left","baseline":"middle","color":"#111"},"encoding":{"x":{"datum":3,"type":"quantitative"},"y":{"datum":46,"type":"quantitative"},"text":{"field":"t"}}}
   ]},
   {"width":207,"height":150,"view":{"fill":"#EAF2F3","stroke":"#FFFFFF","strokeWidth":1},"data":{"name":"h"},"transform":[{"filter":"datum.k=='g' || (datum.p=='Gr' && datum.s=='C')"}],"layer":[
     {"transform":[{"filter":"datum.k=='l'"}],"mark":{"type":"rect","fill":"white"},"encoding":{"x":{"datum":-1.3,"type":"quantitative","scale":{"domain":[-12.571,105.714],"nice":false,"zero":false},"axis":{"values":[0,10,20,30,40,50,60,70,80,90,100],"title":null,"domain":false,"grid":false,"offset":-12.5,"tickSize":2,"tickColor":"#444","tickWidth":0.7,"labelFontSize":6,"labelPadding":1,"labelFont":"Liberation Sans","labelColor":"#333","labelFlush":false,"labelOverlap":false}},"x2":{"datum":103},"y":{"datum":-0.6,"type":"quantitative","scale":{"domain":[-5.51,53.54],"nice":false,"zero":false},"axis":{"values":[0,10,20,30,40,50],"title":"Percent","titleFontSize":5.5,"titleFont":"Liberation Sans","titleFontWeight":"normal","titleColor":"#333","titlePadding":2,"domain":false,"grid":false,"offset":-19.7,"tickSize":2,"tickColor":"#444","tickWidth":0.7,"labelFontSize":6,"labelPadding":1,"labelAngle":270,"labelFont":"Liberation Sans","labelColor":"#333","labelFlush":false,"labelOverlap":false}},"y2":{"datum":52}}},
     {"transform":[{"filter":"datum.k=='g'"}],"mark":{"type":"rule","color":"#DDE6E9","strokeWidth":0.8},"encoding":{"x":{"datum":-1.3,"type":"quantitative"},"x2":{"datum":103},"y":{"field":"y","type":"quantitative"}}},
     {"transform":[{"filter":"datum.k=='b'"}],"mark":{"type":"rect","fill":"#C8B76E","stroke":"#E4DBAE","strokeWidth":0.6},"encoding":{"x":{"field":"x","type":"quantitative"},"x2":{"field":"x1"},"y":{"field":"y","type":"quantitative"},"y2":{"datum":0}}},
     {"transform":[{"filter":"datum.k=='c'"}],"mark":{"type":"line","color":"#5E8C86","strokeWidth":0.9,"interpolate":"monotone"},"encoding":{"x":{"field":"x","type":"quantitative"},"y":{"field":"y","type":"quantitative"}}},
     {"transform":[{"filter":"datum.k=='l'"}],"mark":{"type":"rule","color":"#333","strokeWidth":0.7},"encoding":{"x":{"datum":-1.3,"type":"quantitative"},"y":{"datum":-0.6,"type":"quantitative"},"y2":{"datum":50.8}}},
     {"transform":[{"filter":"datum.k=='l'"}],"mark":{"type":"rule","color":"#333","strokeWidth":0.7},"encoding":{"x":{"datum":-1.3,"type":"quantitative"},"x2":{"datum":100.5},"y":{"datum":-0.6,"type":"quantitative"}}},
     {"transform":[{"filter":"datum.k=='m'"}],"mark":{"type":"rule","color":"#E2564E","strokeWidth":1},"encoding":{"x":{"field":"x","type":"quantitative"}}},
     {"transform":[{"filter":"datum.k=='a'"}],"mark":{"type":"point","filled":true,"fill":"#C8B76E","stroke":"#4A4530","strokeWidth":0.9,"size":400,"opacity":1},"encoding":{"x":{"field":"x","type":"quantitative"},"y":{"field":"y","type":"quantitative"},"shape":{"field":"d","type":"nominal","scale":{"domain":["right","left"],"range":["M-0.8,-0.45L0.05,-0.45L0.05,-1L0.8,0L0.05,1L0.05,0.45L-0.8,0.45Z","M0.8,-0.45L-0.05,-0.45L-0.05,-1L-0.8,0L-0.05,1L-0.05,0.45L0.8,0.45Z"]},"legend":null}}},
     {"transform":[{"filter":"datum.k=='l'"}],"mark":{"type":"text","font":"Liberation Sans","fontWeight":"bold","fontSize":13,"align":"left","baseline":"middle","color":"#111"},"encoding":{"x":{"datum":3,"type":"quantitative"},"y":{"datum":46,"type":"quantitative"},"text":{"field":"t"}}}
   ]}
  ]},
  {"width":621,"height":4,"data":{"values":[{}]},"mark":{"type":"text","fontSize":0},"encoding":{"text":{"value":""}},"view":{"stroke":"#555"}}
 ],"spacing":-2},
 {"width":9,"height":457,"data":{"values":[{}]},"mark":{"type":"text","fontSize":0},"encoding":{"text":{"value":""}},"view":{"stroke":"#555"}}
],"spacing":-2},
{"width":709,"height":22,"data":{"values":[{}]},"mark":{"type":"text","fontSize":0},"encoding":{"text":{"value":""}},"view":{"fill":"#D9D9D9","stroke":"#555"}},
{"hconcat":[
 {"width":34,"height":216,"data":{"values":[{"t":"TGS - Value"}]},"mark":{"type":"text","angle":270,"fontWeight":"bold"},"encoding":{"text":{"field":"t"}},"view":{"stroke":"#555"}},
 {"width":35,"height":216,"data":{"values":[{"r":"71–100"},{"r":"50–70"},{"r":"20–49"},{"r":"0–19"}]},"mark":{"type":"text","angle":270,"fontWeight":"bold"},
  "encoding":{"y":{"field":"r","type":"nominal","scale":{"type":"band","domain":["71–100","50–70","20–49","0–19"],"paddingInner":0,"paddingOuter":0},"axis":{"grid":true,"tickBand":"extent","labels":false,"ticks":false,"domain":false,"title":null,"gridColor":"#555","gridOpacity":1,"zindex":1}},"text":{"field":"r"}},"view":{"stroke":"#555"}},
 {"width":640,"height":216,"data":{"name":"tbl"},"mark":{"type":"text","fontSize":13.5,"fontWeight":"normal","color":"#222"},
  "encoding":{"x":{"field":"p","type":"nominal","scale":{"domain":["Gl","Eu","Gr"]},"axis":null},"y":{"field":"r","type":"nominal","scale":{"type":"band","domain":["71–100","50–70","20–49","0–19"],"paddingInner":0,"paddingOuter":0},"axis":{"grid":true,"tickBand":"extent","labels":false,"ticks":false,"domain":false,"title":null,"gridColor":"#555","gridOpacity":1,"zindex":1}},"text":{"field":"t"}},"view":{"stroke":"#555"}}
],"spacing":0,"bounds":"flush"}
]
}
